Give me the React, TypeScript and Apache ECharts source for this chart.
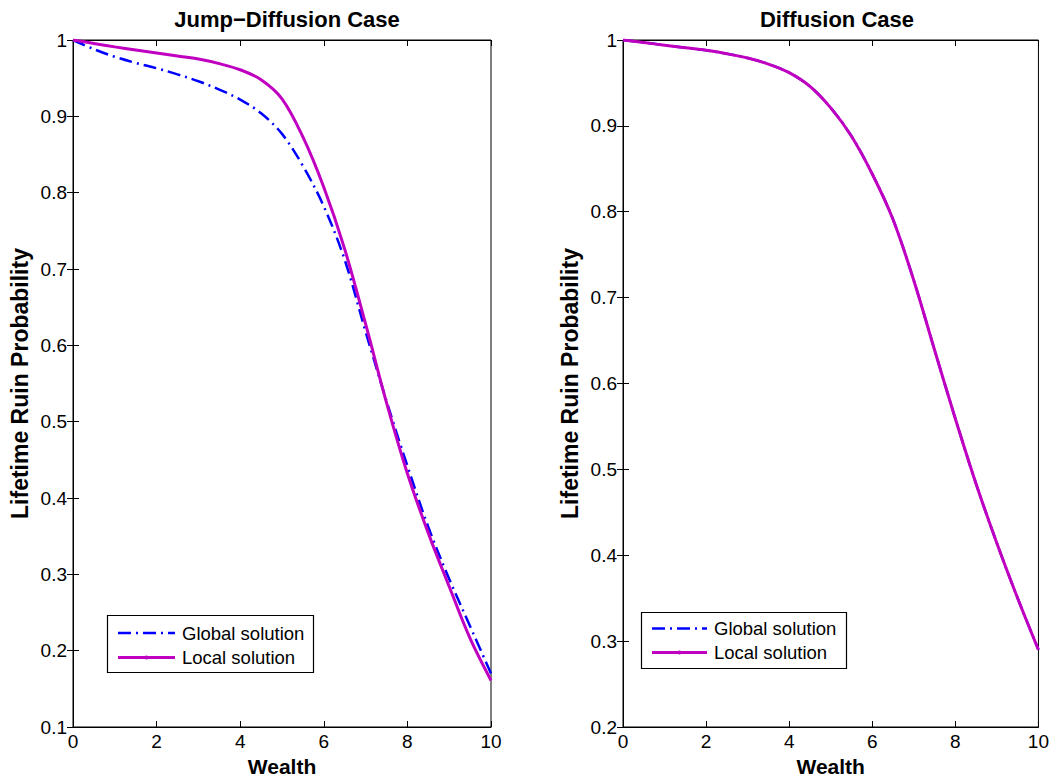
import React, { useEffect, useRef } from "react";
import * as echarts from "echarts";

// Wealth grid shared by every curve
const wealth = [0, 0.5, 1, 1.5, 2, 2.5, 3, 3.5, 4, 4.5, 5, 5.5, 6, 6.5, 7, 7.5, 8, 8.5, 9, 9.5, 10];

// Jump-diffusion case: ruin probability, global vs local solution
const jumpGlobal = [1.0, 0.988, 0.978, 0.97, 0.963, 0.955, 0.946, 0.935, 0.922, 0.904, 0.877, 0.835, 0.782, 0.712, 0.618, 0.527, 0.442, 0.362, 0.294, 0.232, 0.17];
const jumpLocal = [1.0, 0.9955, 0.991, 0.987, 0.983, 0.979, 0.975, 0.969, 0.961, 0.948, 0.923, 0.873, 0.807, 0.726, 0.628, 0.525, 0.432, 0.354, 0.284, 0.216, 0.161];

// Diffusion case: both solutions coincide
const diffGlobal = [1.0, 0.997, 0.994, 0.991, 0.988, 0.984, 0.979, 0.972, 0.962, 0.946, 0.921, 0.888, 0.844, 0.791, 0.72, 0.639, 0.559, 0.483, 0.414, 0.35, 0.29];
const diffLocal = [1.0, 0.997, 0.994, 0.991, 0.988, 0.984, 0.979, 0.972, 0.962, 0.946, 0.921, 0.888, 0.844, 0.791, 0.72, 0.639, 0.559, 0.483, 0.414, 0.35, 0.29];

const panelTitles = ["Jump\u2212Diffusion Case", "Diffusion Case"];
const legendNames = ["Global solution", "Local solution"];
const yMins = [0.1, 0.2];

const FONT = "'Liberation Sans', Arial, Helvetica, sans-serif";
const BLUE = "#0000ff";
const MAGENTA = "#c000c0";
const DASH_DOT = [13, 5, 2, 5];

const pairs = (ys: number[]) => wealth.map((w, i) => [w, ys[i]]);

export default function App() {
  const ref = useRef<HTMLDivElement>(null);

  useEffect(() => {
    if (!ref.current) return;
    const chart = echarts.init(ref.current, null, { renderer: "svg" });

    const gridPos = [
      { left: 73, top: 40, width: 418, height: 690 },
      { left: 623, top: 40, width: 418, height: 690 },
    ];

    const tickStyle = { show: true, inside: true, length: 6, lineStyle: { color: "#000", width: 1 } };
    const labelStyle = { color: "#000", fontSize: 19, fontFamily: FONT };
    const xNameStyle = { color: "#000", fontSize: 21, fontWeight: "bold" as const, fontFamily: FONT };
    const yNameStyle = { color: "#000", fontSize: 23, fontWeight: "bold" as const, fontFamily: FONT };

    const xAxes: any[] = [];
    const yAxes: any[] = [];
    gridPos.forEach((_, g) => {
      xAxes.push({
        type: "value", gridIndex: g, min: 0, max: 10, interval: 2, position: "bottom",
        name: "Wealth", nameLocation: "middle", nameGap: 29, nameTextStyle: xNameStyle,
        axisLine: { show: true, lineStyle: { color: "#000", width: 1 } },
        axisTick: tickStyle, axisLabel: { ...labelStyle, margin: 5 }, splitLine: { show: false },
      });
      xAxes.push({
        type: "value", gridIndex: g, min: 0, max: 10, interval: 2, position: "top",
        axisLine: { show: true, lineStyle: { color: "#000", width: 1 } },
        axisTick: tickStyle, axisLabel: { show: false }, splitLine: { show: false },
      });
      yAxes.push({
        type: "value", gridIndex: g, min: yMins[g], max: 1, interval: 0.1, position: "left",
        name: "Lifetime Ruin Probability", nameLocation: "middle", nameGap: 42, nameTextStyle: yNameStyle,
        axisLine: { show: true, lineStyle: { color: "#000", width: 1 } },
        axisTick: tickStyle, axisLabel: { ...labelStyle, margin: 6 }, splitLine: { show: false },
      });
      yAxes.push({
        type: "value", gridIndex: g, min: yMins[g], max: 1, interval: 0.1, position: "right",
        axisLine: { show: true, lineStyle: { color: "#000", width: 1 } },
        axisTick: tickStyle, axisLabel: { show: false }, splitLine: { show: false },
      });
    });

    const globalLine = (data: number[][], g: number) => ({
      type: "line", name: legendNames[0], xAxisIndex: g * 2, yAxisIndex: g * 2,
      data, smooth: 0.35, showSymbol: false, symbol: "none", z: 2,
      lineStyle: { color: BLUE, width: 2.5, type: DASH_DOT },
    });
    const localLine = (data: number[][], g: number) => ({
      type: "line", name: legendNames[1], xAxisIndex: g * 2, yAxisIndex: g * 2,
      data, smooth: 0.35, showSymbol: false, symbol: "none", z: 3,
      lineStyle: { color: MAGENTA, width: 3 },
    });

    // Legend boxes drawn as graphics: [boxX, boxY, boxW, boxH, lineX0, lineX1, row1Y, row2Y, textX]
    const legendBoxes = [
      [107.5, 615.5, 206, 57, 118, 175, 633, 657.5, 182],
      [641.5, 612.5, 205, 56, 652, 707, 628.5, 652.5, 714],
    ];
    const graphics: any[] = [];
    legendBoxes.forEach(([bx, by, bw, bh, x0, x1, r1, r2, tx]) => {
      graphics.push({
        type: "rect", shape: { x: bx, y: by, width: bw, height: bh },
        style: { fill: "#fff", stroke: "#000", lineWidth: 1.2 }, z: 10,
      });
      graphics.push({
        type: "line", shape: { x1: x0, y1: r1, x2: x1, y2: r1 },
        style: { stroke: BLUE, lineWidth: 2.5, lineDash: DASH_DOT }, z: 11,
      });
      graphics.push({
        type: "line", shape: { x1: x0, y1: r2, x2: x1, y2: r2 },
        style: { stroke: MAGENTA, lineWidth: 3 }, z: 11,
      });
      graphics.push({
        type: "circle", shape: { cx: (x0 + x1) / 2, cy: r2, r: 2 },
        style: { fill: MAGENTA }, z: 12,
      });
      graphics.push({
        type: "text", x: tx, y: r1, z: 11,
        style: { text: legendNames[0], fill: "#000", font: `18.5px ${FONT}`, verticalAlign: "middle" },
      });
      graphics.push({
        type: "text", x: tx, y: r2, z: 11,
        style: { text: legendNames[1], fill: "#000", font: `18.5px ${FONT}`, verticalAlign: "middle" },
      });
    });

    chart.setOption({
      animation: false,
      backgroundColor: "#fff",
      title: panelTitles.map((t, g) => ({
        text: t, left: gridPos[g].left + gridPos[g].width / 2, top: 3, textAlign: "center",
        textStyle: { color: "#000", fontSize: 22, fontWeight: "bold", fontFamily: FONT },
      })),
      grid: gridPos.map((p) => ({ ...p, show: true, borderColor: "#000", borderWidth: 1, backgroundColor: "transparent" })),
      xAxis: xAxes,
      yAxis: yAxes,
      series: [
        globalLine(pairs(jumpGlobal), 0),
        localLine(pairs(jumpLocal), 0),
        globalLine(pairs(diffGlobal), 1),
        localLine(pairs(diffLocal), 1),
      ],
      graphic: graphics,
    });

    return () => chart.dispose();
  }, []);

  return (
    <div
      ref={ref}
      style={{ position: "fixed", left: 0, top: 0, width: 1052, height: 782, background: "#fff" }}
    />
  );
}
